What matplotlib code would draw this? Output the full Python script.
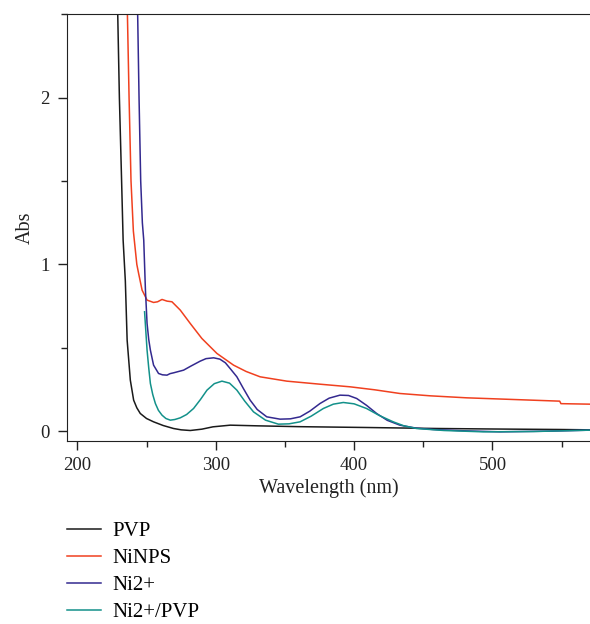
import numpy as np
import matplotlib.pyplot as plt
from matplotlib.ticker import MultipleLocator

plt.rcParams['font.family'] = ['Liberation Serif', 'DejaVu Serif']

# spectra (wavelength nm, absorbance)
pvp_x = [229.2, 230.4, 232.0, 233.1, 234.7, 236.0, 238.3, 240.7, 243.0, 245.5, 250.0, 255.1,
         262.0, 269.5, 275.0, 281.6, 290.0, 298.0, 310.5, 330.0, 360.0, 409.0, 460.0,
         500.0, 548.6, 570.0]
pvp_y = [2.5, 2.0, 1.5, 1.146, 0.9, 0.546, 0.306, 0.186, 0.14, 0.106, 0.076, 0.056,
         0.034, 0.016, 0.008, 0.004, 0.012, 0.026, 0.036, 0.032, 0.027, 0.022, 0.016,
         0.013, 0.01, 0.008]

nin_x = [236.2, 237.4, 238.8, 240.5, 243.0, 244.3, 246.8, 250.4, 255.1, 258.0, 261.2, 264.8,
         268.4, 274.4, 281.6, 290.0, 300.9, 312.9, 322.0, 332.1, 351.4,
         375.0, 397.1, 415.0, 433.1, 455.0, 481.3, 515.0, 548.6, 549.5, 570.0]
nin_y = [2.5, 2.0, 1.5, 1.2, 1.0, 0.946, 0.846, 0.786, 0.772, 0.776, 0.79, 0.78,
         0.776, 0.726, 0.646, 0.556, 0.466, 0.396, 0.358, 0.326, 0.30,
         0.282, 0.266, 0.248, 0.226, 0.212, 0.20, 0.19, 0.18, 0.165, 0.162]

ni2_x = [243.6, 244.6, 245.8, 247.0, 248.0, 249.2, 250.4, 251.6, 252.8, 255.1, 258.7, 261.5,
         264.8, 267.0, 269.6, 276.8, 282.0, 288.8, 293.0, 298.5, 303.0, 307.0, 311.0, 315.3,
         320.0, 324.9, 330.0, 336.9, 346.5, 354.0, 361.0, 368.0, 375.4, 382.0, 389.8,
         396.0, 401.9, 409.0, 416.3, 424.0, 433.1, 445.0, 457.2, 480.0, 505.3, 540.0, 570.0]
ni2_y = [2.5, 2.0, 1.5, 1.25, 1.146, 0.85, 0.646, 0.55, 0.486, 0.396, 0.346, 0.338,
         0.336, 0.345, 0.35, 0.366, 0.39, 0.42, 0.435, 0.44, 0.432, 0.41, 0.37, 0.326,
         0.256, 0.186, 0.13, 0.086, 0.072, 0.074, 0.086, 0.12, 0.166, 0.198, 0.216,
         0.214, 0.196, 0.155, 0.106, 0.065, 0.036, 0.018, 0.01, 0.002, -0.004, 0.0, 0.006]

mix_x = [248.6, 249.5, 250.4, 251.6, 252.8, 254.5, 256.4, 258.6, 261.2, 264.0, 267.2, 270.5,
         274.4, 279.0, 284.0, 289.0, 293.7, 299.0, 304.5, 310.0, 315.3, 321.0, 327.3, 336.0,
         345.3, 353.0, 361.0, 369.0, 377.8, 385.0, 392.2, 400.0, 409.0, 418.0, 428.3, 436.0,
         445.1, 465.0, 493.3, 530.0, 570.0]
mix_y = [0.716, 0.6, 0.486, 0.38, 0.286, 0.22, 0.166, 0.125, 0.096, 0.076, 0.066, 0.07,
         0.08, 0.1, 0.136, 0.19, 0.246, 0.285, 0.30, 0.288, 0.246, 0.18, 0.116, 0.066,
         0.042, 0.044, 0.056, 0.09, 0.136, 0.162, 0.172, 0.164, 0.136, 0.095, 0.056, 0.032,
         0.016, 0.004, -0.004, -0.002, 0.006]

names = ['PVP', 'NiNPS', 'Ni2+', 'Ni2+/PVP']
colors = ['#1a1a1a', '#f0401f', '#33298f', '#13918a']

fig = plt.figure(figsize=(5.9, 6.24), dpi=100)
ax = fig.add_axes([0.113, 0.293, 0.887, 0.684])

for xs, ys, name, c in zip([pvp_x, nin_x, ni2_x, mix_x], [pvp_y, nin_y, ni2_y, mix_y], names, colors):
    ax.plot(xs, ys, color=c, lw=1.1, label=name, solid_joinstyle='round')

ax.set_xlim(192.3, 570.5)
ax.set_ylim(-0.06, 2.5)
ax.xaxis.set_major_locator(MultipleLocator(100))
ax.xaxis.set_minor_locator(MultipleLocator(50))
ax.yaxis.set_major_locator(MultipleLocator(1))
ax.yaxis.set_minor_locator(MultipleLocator(0.5))
ax.tick_params(which='major', direction='out', length=6.5, width=1, labelsize=13.5,
               colors='#222222')
ax.tick_params(axis='y', which='major', pad=6)
ax.tick_params(axis='x', which='major', pad=5)
ax.tick_params(which='minor', direction='out', length=4.5, width=1, colors='#222222')
ax.spines['right'].set_visible(False)
for s in ['left', 'bottom', 'top']:
    ax.spines[s].set_color('#222222')
ax.set_xlabel('Wavelength (nm)', fontsize=14.5, color='#222222', labelpad=3)
ax.set_ylabel('Abs', fontsize=14.5, color='#222222', labelpad=4)

fig.legend(loc='upper left', bbox_to_anchor=(0.113, 0.164), frameon=False,
           fontsize=15, handlelength=1.63, handletextpad=0.56, labelspacing=0.35,
           borderaxespad=0, borderpad=0)

fig.savefig('out.png', dpi=100)
